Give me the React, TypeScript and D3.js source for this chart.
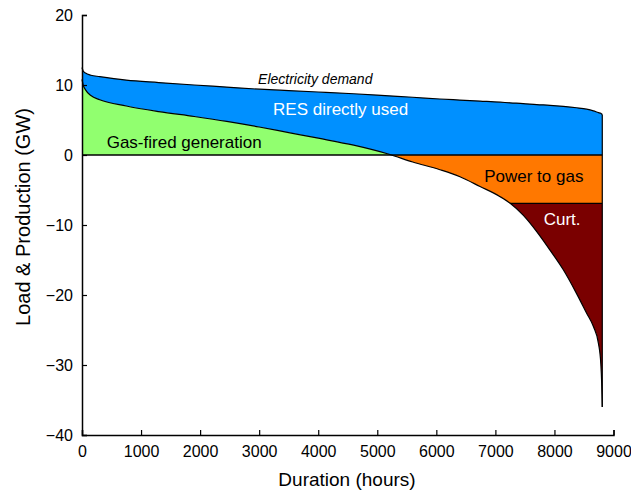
import React, { useEffect, useRef } from 'react';
import * as d3 from 'd3';

// duration curve samples (hours sorted by residual load)
const hours = [0, 20, 60, 150, 300, 750, 1300, 1900, 2450, 3000, 3500, 4000, 4600, 5200, 5600, 6060, 6400, 6740, 7080, 7250, 7470, 7700, 7925, 8150, 8375, 8545, 8660, 8745, 8785, 8800, 8810];
const demand = [12.5, 12.0, 11.7, 11.4, 11.2, 10.7, 10.35, 10.0, 9.7, 9.4, 9.2, 9.0, 8.75, 8.45, 8.25, 8.0, 7.85, 7.7, 7.55, 7.45, 7.35, 7.2, 7.1, 6.95, 6.75, 6.55, 6.3, 6.05, 5.95, 5.85, 5.8];
const residual = [10.8, 10.0, 9.3, 8.5, 7.9, 7.0, 6.2, 5.5, 4.8, 4.0, 3.2, 2.4, 1.4, 0.1, -1.0, -2.1, -3.1, -4.5, -5.95, -6.9, -8.6, -10.95, -13.6, -16.4, -19.8, -22.6, -24.5, -26.9, -29.8, -32.6, -36];
const p2gCapacity = -6.9;

const xTicks = [0, 1000, 2000, 3000, 4000, 5000, 6000, 7000, 8000, 9000];
const yTicks = [-40, -30, -20, -10, 0, 10, 20];

const labels = [
    { text: 'Electricity demand', h: 3950, v: 10.2, color: '#000', italic: true, size: 14 },
    { text: 'RES directly used', h: 4380, v: 5.7, color: '#fff', italic: false, size: 17 },
    { text: 'Gas-fired generation', h: 1730, v: 1.0, color: '#000', italic: false, size: 17 },
    { text: 'Power to gas', h: 7650, v: -3.8, color: '#000', italic: false, size: 17 },
    { text: 'Curt.', h: 8130, v: -10.0, color: '#fff', italic: false, size: 17 },
];

const FONT = '"Liberation Sans", Arial, sans-serif';

const App = () => {
    const ref = useRef(null);

    const graph = () => {
        const svg = d3.select(ref.current);
        svg.selectAll('*').remove();

        const x = d3.scaleLinear().domain([0, 9000]).range([82, 613.5]);
        const y = d3.scaleLinear().domain([-40, 20]).range([435, 15]);
        const pts = hours.map((h, i) => ({ h, d: demand[i], r: residual[i] }));
        const curve = d3.curveMonotoneX;
        const xEnd = x(hours[hours.length - 1]);

        const defs = svg.append('defs');
        const clip = (id, top, bottom) => {
            defs.append('clipPath').attr('id', id).append('rect')
                .attr('x', 0).attr('width', 631)
                .attr('y', y(top)).attr('height', y(bottom) - y(top));
        };
        clip('above0', 20, 0);
        clip('p2gBand', 0, p2gCapacity);
        clip('curtBand', p2gCapacity, -40);

        const between = d3.area().curve(curve)
            .x(d => x(d.h)).y0(d => y(d.r)).y1(d => y(d.d));
        const toZero = d3.area().curve(curve)
            .x(d => x(d.h)).y0(y(0)).y1(d => y(d.r));

        defs.append('clipPath').attr('id', 'resArea').append('path').attr('d', toZero(pts));

        svg.append('path').attr('d', between(pts)).attr('fill', '#0090ff').attr('clip-path', 'url(#above0)');
        svg.append('path').attr('d', toZero(pts)).attr('fill', '#91ff6f').attr('clip-path', 'url(#above0)');
        svg.append('path').attr('d', toZero(pts)).attr('fill', '#ff7800').attr('clip-path', 'url(#p2gBand)');
        svg.append('path').attr('d', toZero(pts)).attr('fill', '#7a0000').attr('clip-path', 'url(#curtBand)');

        // outlines
        const line = (key) => d3.line().curve(curve).x(d => x(d.h)).y(d => y(d[key]));
        svg.append('path').attr('d', line('d')(pts)).attr('fill', 'none').attr('stroke', '#000').attr('stroke-width', 1.2);
        svg.append('path').attr('d', line('r')(pts)).attr('fill', 'none').attr('stroke', '#000').attr('stroke-width', 1.2);
        svg.append('line').attr('x1', x(0)).attr('x2', xEnd).attr('y1', y(0)).attr('y2', y(0))
            .attr('stroke', '#000').attr('stroke-width', 1.5);
        svg.append('line').attr('x1', x(6000)).attr('x2', xEnd).attr('y1', y(p2gCapacity)).attr('y2', y(p2gCapacity))
            .attr('stroke', '#000').attr('stroke-width', 1.2).attr('clip-path', 'url(#resArea)');
        svg.append('line').attr('x1', xEnd).attr('x2', xEnd)
            .attr('y1', y(demand[demand.length - 1])).attr('y2', y(residual[residual.length - 1]))
            .attr('stroke', '#000').attr('stroke-width', 1.2);

        // axes
        svg.append('g')
            .attr('transform', `translate(0, ${y(-40)})`)
            .call(d3.axisBottom(x).tickValues(xTicks).tickFormat(d3.format('d')).tickSize(-5).tickPadding(11));
        svg.append('g')
            .attr('transform', `translate(${x(0)}, 0)`)
            .call(d3.axisLeft(y).tickValues(yTicks).tickFormat(d => d < 0 ? `\u2212${-d}` : `${d}`).tickSize(-5).tickPadding(9));
        svg.selectAll('.domain').attr('stroke', '#000').attr('stroke-width', 1.5);
        svg.selectAll('.tick line').attr('stroke', '#000').attr('stroke-width', 1.2);
        svg.selectAll('.tick text').style('font-family', FONT).style('font-size', '16px').attr('fill', '#000');

        svg.append('text').attr('x', 347).attr('y', 486).attr('text-anchor', 'middle')
            .style('font-family', FONT).style('font-size', '19px').text('Duration (hours)');
        svg.append('text').attr('transform', 'translate(30, 217) rotate(-90)').attr('text-anchor', 'middle')
            .style('font-family', FONT).style('font-size', '20px').text('Load & Production (GW)');

        svg.selectAll('text.lbl').data(labels).enter().append('text')
            .attr('class', 'lbl')
            .attr('x', d => x(d.h)).attr('y', d => y(d.v))
            .attr('text-anchor', 'middle')
            .attr('fill', d => d.color)
            .style('font-family', FONT)
            .style('font-size', d => `${d.size}px`)
            .style('font-style', d => d.italic ? 'italic' : 'normal')
            .text(d => d.text);
    };

    useEffect(() => graph());
    return (
        <svg ref={ref} width="631" height="490" style={{ position: 'absolute', left: 0, top: 0, background: '#fff' }}></svg>
    );
};

export default App;
